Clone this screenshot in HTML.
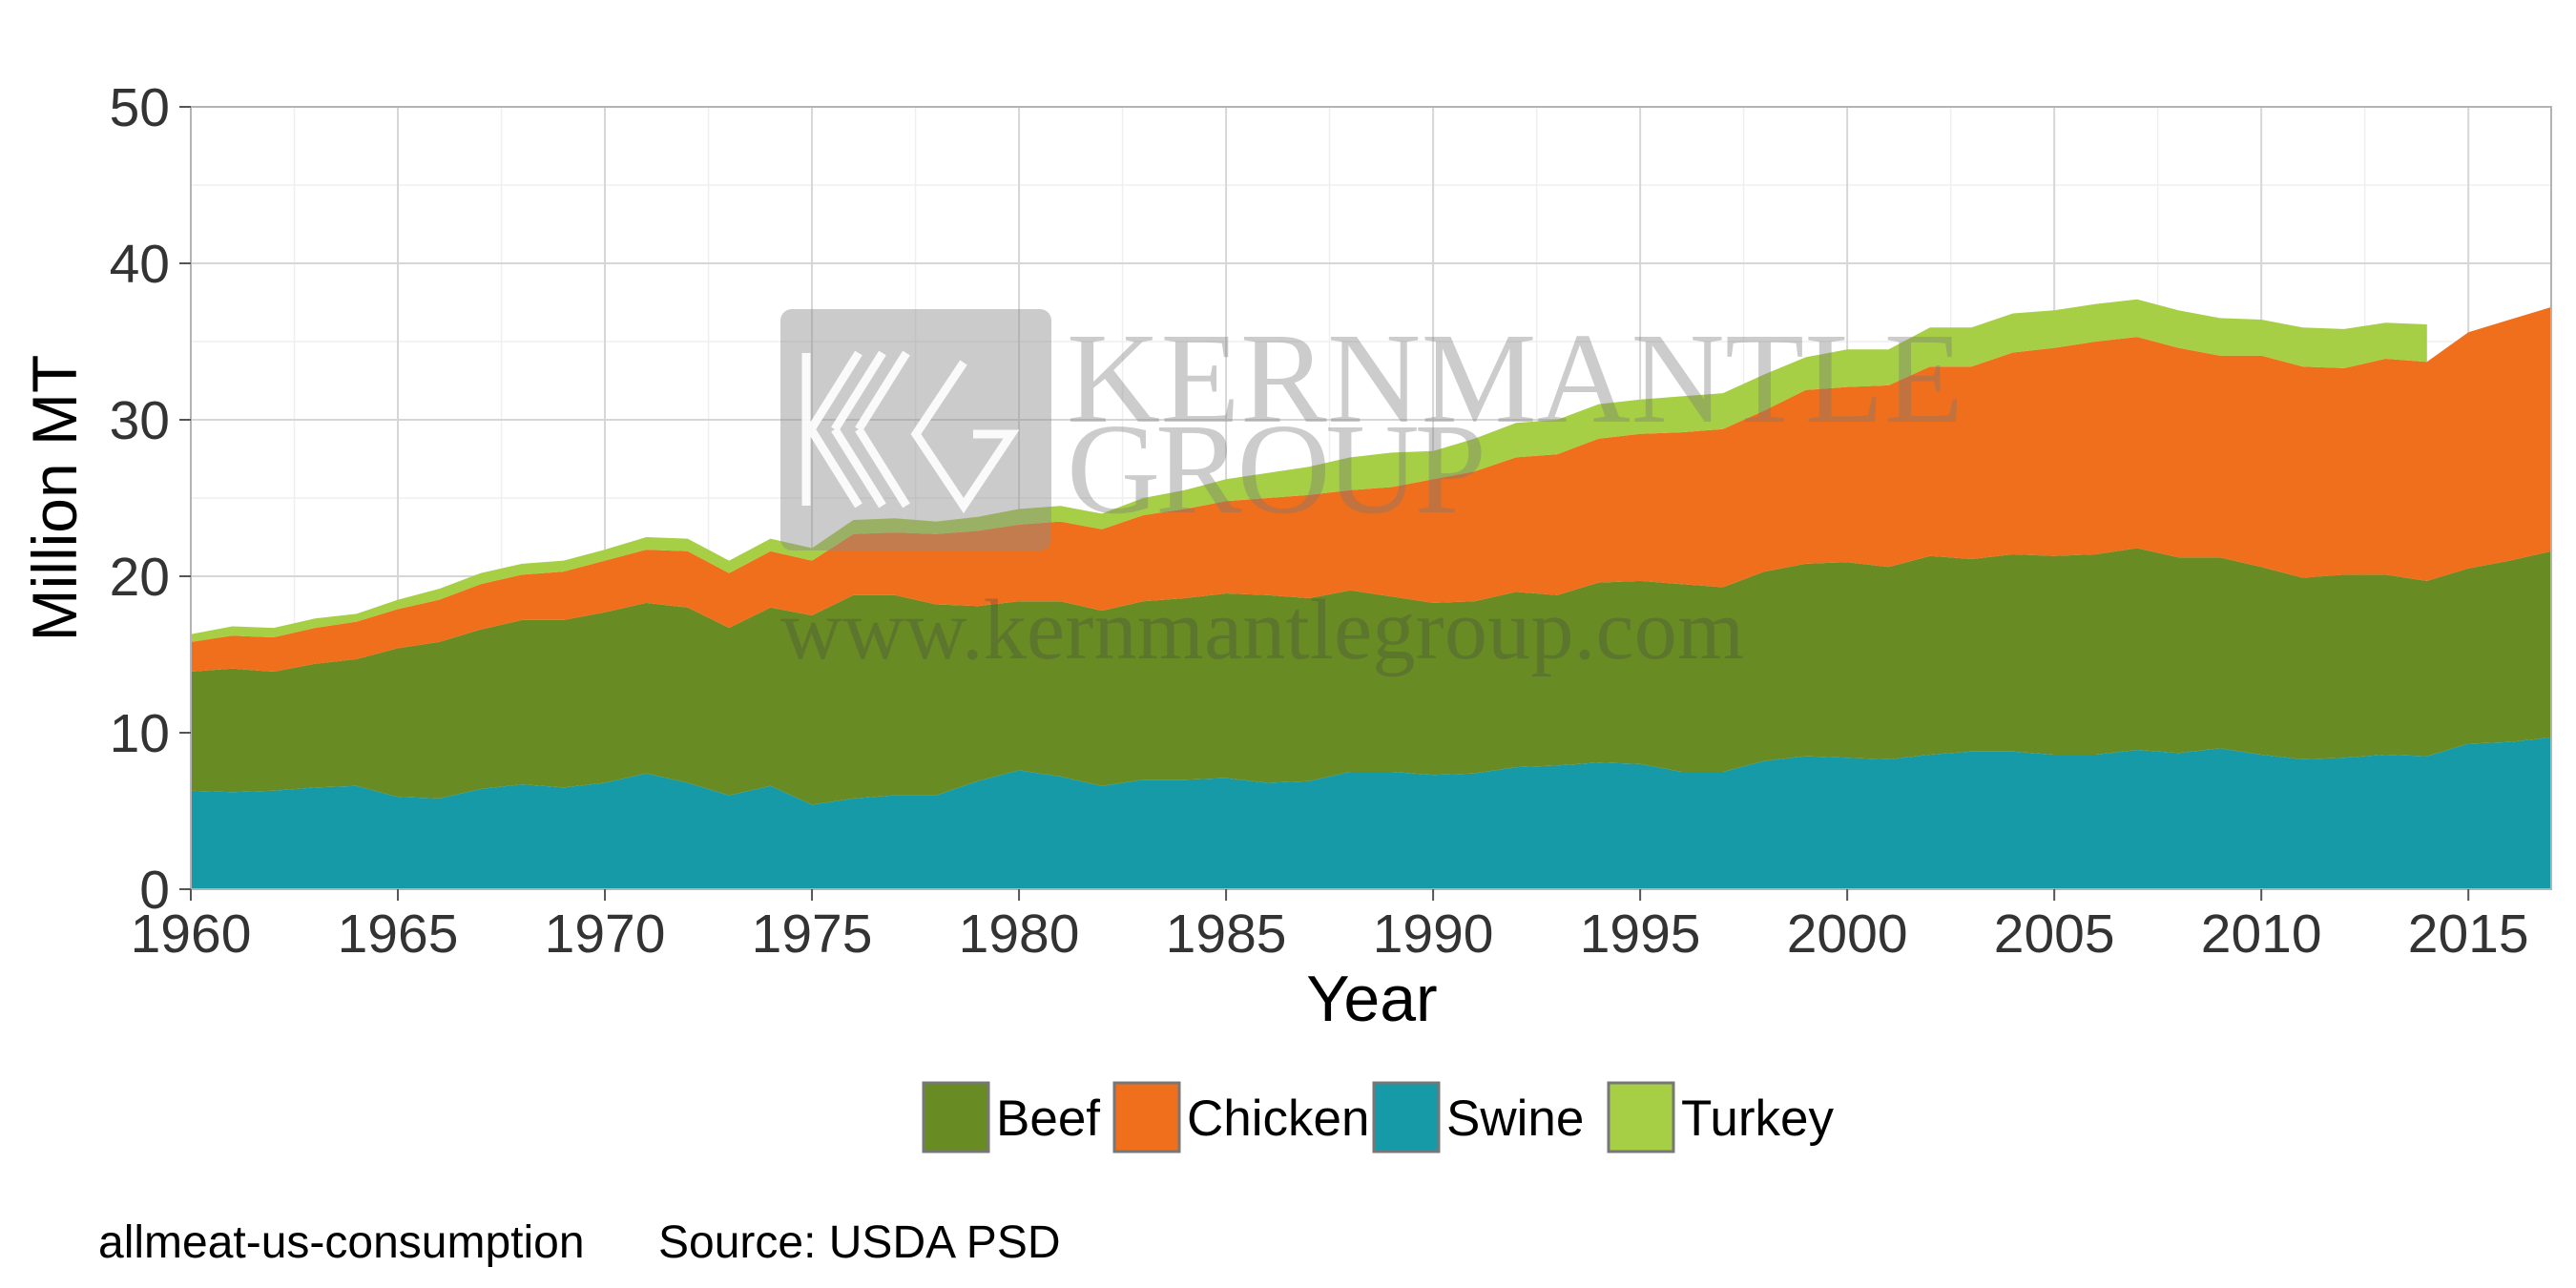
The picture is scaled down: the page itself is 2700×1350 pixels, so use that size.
<!DOCTYPE html>
<html><head><meta charset="utf-8"><style>
html,body{margin:0;padding:0;background:#fff;}
svg{display:block;font-family:"Liberation Sans",sans-serif;}
</style></head><body>
<svg id="chart" width="2700" height="1350" viewBox="0 0 2700 1350">
<rect x="0" y="0" width="2700" height="1350" fill="#fff"/>
<g id="grid"></g>
<g id="areas"></g>
<g id="watermark">
  <rect x="818" y="324" width="284" height="253" rx="12" fill="rgba(140,140,140,0.45)"/>
  <g fill="none" stroke="rgba(255,255,255,0.9)" stroke-width="9">
    <path d="M845 370 V530 M850 450 L900 370 M850 450 L900 530 M875 450 L925 370 M875 450 L925 530 M900 450 L950 370 M900 450 L950 530 M1010 380 L960 455 L1010 530 L1060 455 H1020"/>
  </g>
  <text x="1118" y="442" font-family="'Liberation Serif',serif" font-size="136" textLength="940" fill="rgba(120,120,120,0.38)">KERNMANTLE</text>
  <text x="1118" y="537" font-family="'Liberation Serif',serif" font-size="136" textLength="440" fill="rgba(120,120,120,0.38)">GROUP</text>
  <text x="818" y="690" font-family="'Liberation Serif',serif" font-size="90" textLength="1010" fill="rgba(70,70,70,0.3)">www.kernmantlegroup.com</text>
</g>
<rect x="200" y="112" width="2474" height="820" fill="none" stroke="#b3b3b3" stroke-width="2"/>
<g id="axes"></g>
<text x="1438" y="1070" font-size="68" text-anchor="middle">Year</text>
<text transform="translate(80,522) rotate(-90)" font-size="66" text-anchor="middle">Million MT</text>
<g id="legend"></g>
<text x="103" y="1318" font-size="48">allmeat-us-consumption</text>
<text x="690" y="1318" font-size="48">Source: USDA PSD</text>
</svg>
<script>
const years = [];
for (let y = 1960; y <= 2017; y++) years.push(y);
const swine = [6.3,6.2,6.3,6.5,6.6,5.9,5.8,6.4,6.7,6.5,6.8,7.4,6.8,6.0,6.6,5.4,5.8,6.0,6.0,6.9,7.6,7.2,6.6,7.0,7.0,7.1,6.8,6.9,7.5,7.5,7.3,7.4,7.8,7.9,8.1,8.0,7.5,7.5,8.2,8.5,8.4,8.3,8.6,8.8,8.8,8.6,8.6,8.9,8.7,9.0,8.6,8.3,8.4,8.6,8.5,9.3,9.4,9.7];
const beef = [7.6,7.9,7.6,7.9,8.1,9.5,10.0,10.2,10.5,10.7,10.9,10.9,11.2,10.7,11.4,12.1,13.0,12.8,12.2,11.2,10.8,11.2,11.2,11.4,11.6,11.8,12.0,11.7,11.6,11.2,11.0,11.0,11.2,10.9,11.5,11.7,12.0,11.8,12.1,12.3,12.5,12.3,12.7,12.3,12.6,12.7,12.8,12.9,12.5,12.2,12.0,11.6,11.7,11.5,11.2,11.2,11.6,11.9];
const chicken = [1.9,2.1,2.2,2.3,2.4,2.5,2.7,2.9,2.9,3.1,3.3,3.4,3.6,3.5,3.6,3.5,3.9,4.0,4.5,4.8,4.9,5.1,5.2,5.5,5.7,5.9,6.2,6.6,6.4,7.0,7.9,8.3,8.6,9.0,9.2,9.4,9.7,10.1,10.3,11.1,11.2,11.6,12.1,12.3,12.9,13.3,13.6,13.5,13.4,12.9,13.5,13.5,13.2,13.8,14.0,15.1,15.4,15.6];
const turkey = [0.5,0.6,0.6,0.6,0.5,0.6,0.7,0.7,0.7,0.7,0.7,0.8,0.8,0.8,0.8,0.8,0.9,0.9,0.8,0.9,1.0,1.0,1.0,1.1,1.2,1.4,1.6,1.8,2.1,2.2,1.8,2.1,2.2,2.2,2.2,2.2,2.3,2.3,2.3,2.1,2.4,2.3,2.5,2.5,2.5,2.4,2.4,2.4,2.4,2.4,2.3,2.5,2.5,2.3,2.4,null,null,null];
const yTicks = [0,10,20,30,40,50];
const xTicks = [1960,1965,1970,1975,1980,1985,1990,1995,2000,2005,2010,2015];
const seriesNames = ["Beef","Chicken","Swine","Turkey"];

const NS = "http://www.w3.org/2000/svg";
const L = 200, R = 2674, T = 112, B = 932;
const xS = v => L + (v - 1960) / (2017 - 1960) * (R - L);
const yS = v => B - v / 50 * (B - T);
function el(tag, attrs, parent) {
  const e = document.createElementNS(NS, tag);
  for (const k in attrs) e.setAttribute(k, attrs[k]);
  parent.appendChild(e);
  return e;
}
const grid = document.getElementById("grid");
for (let v = 5; v < 50; v += 10) {
  const ln = el("line", {x1:L, x2:R, y1:yS(v), y2:yS(v), stroke:"#efefef", "stroke-width":1.5}, grid);
  
  
}
for (let v = 1962.5; v < 2017; v += 5) {
  const ln = el("line", {x1:xS(v), x2:xS(v), y1:T, y2:B, stroke:"#efefef", "stroke-width":1.5}, grid);
  
  
}
yTicks.forEach(v => {
  const ln = el("line", {x1:L, x2:R, y1:yS(v), y2:yS(v), stroke:"#d6d6d6", "stroke-width":2}, grid);
  
  
});
xTicks.forEach(v => {
  const ln = el("line", {x1:xS(v), x2:xS(v), y1:T, y2:B, stroke:"#d6d6d6", "stroke-width":2}, grid);
  
  
});

const areas = document.getElementById("areas");
const colors = {Swine:"#169aa7", Beef:"#688b23", Chicken:"#ef6f1c", Turkey:"#a6cf45"};
const stackOrder = [["Swine", swine],["Beef", beef],["Chicken", chicken],["Turkey", turkey]];
let base = years.map(() => 0);
stackOrder.forEach(([name, vals]) => {
  const top = base.map((b, i) => vals[i] == null ? null : b + vals[i]);
  const idx = years.map((_, i) => i).filter(i => vals[i] != null);
  let d = idx.map((i, k) => (k ? "L" : "M") + xS(years[i]).toFixed(1) + " " + yS(top[i]).toFixed(1)).join(" ");
  d += " " + idx.slice().reverse().map(i => "L" + xS(years[i]).toFixed(1) + " " + yS(base[i]).toFixed(1)).join(" ") + " Z";
  const p = el("path", {d, fill:colors[name]}, areas);
  
  
  base = base.map((b, i) => top[i] == null ? b : top[i]);
});

const axes = document.getElementById("axes");
yTicks.forEach(v => {
  const t = el("line", {x1:L-12, x2:L, y1:yS(v), y2:yS(v), stroke:"#555", "stroke-width":2}, axes);
  
  
  const lb = el("text", {x:L-22, y:yS(v)+20, "font-size":57, "text-anchor":"end", fill:"#333"}, axes);
  lb.textContent = v;
  
  
});
xTicks.forEach(v => {
  const t = el("line", {x1:xS(v), x2:xS(v), y1:B, y2:B+12, stroke:"#555", "stroke-width":2}, axes);
  
  
  const lb = el("text", {x:xS(v), y:B+66, "font-size":57, "text-anchor":"middle", fill:"#333"}, axes);
  lb.textContent = v;
  
  
});

const legend = document.getElementById("legend");
const legX = [966, 1166, 1438, 1684];
seriesNames.forEach((n, i) => {
  const r = el("rect", {x:legX[i]+2, y:1135, width:68, height:72, fill:colors[n], stroke:"#777", "stroke-width":3}, legend);
  
  
  const t = el("text", {x:legX[i]+78, y:1190, "font-size":53}, legend);
  t.textContent = n;
  
  
});
</script>
</body></html>
